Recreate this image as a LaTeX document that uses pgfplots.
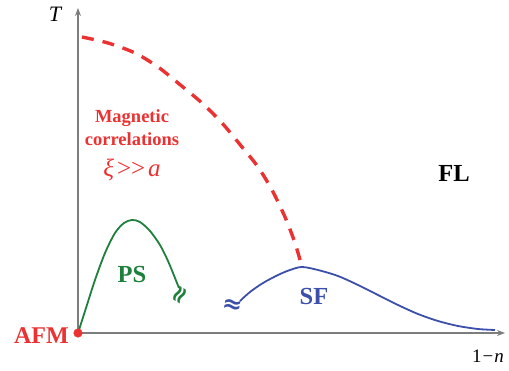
\documentclass[border=0pt]{standalone}
\usepackage{fontspec}
\setmainfont{Liberation Serif}
\newfontfamily\dejavu{DejaVu Sans}
\usepackage{pgfplots}
\pgfplotsset{compat=1.18}
\usetikzlibrary{arrows.meta}
\definecolor{cred}{RGB}{235,50,50}
\definecolor{cgreen}{RGB}{30,128,60}
\definecolor{cblue}{RGB}{60,80,170}
\definecolor{caxis}{RGB}{125,125,125}
\begin{document}
\begin{tikzpicture}
\useasboundingbox (-78pt,-37pt) rectangle (431pt,333pt);
\begin{axis}[
  anchor=origin, at={(0pt,0pt)},
  x=1pt, y=1pt,
  xmin=0, xmax=427, ymin=0, ymax=325,
  axis lines=left,
  axis line style={caxis, line width=1.3pt, -{Stealth[length=8pt,width=6pt]}},
  xtick=\empty, ytick=\empty,
  clip=false,
]
% red dashed crossover
\addplot[cred, line width=3.4pt, dash pattern=on 12pt off 9pt, smooth, tension=0.5] coordinates {
(4,296) (30,290) (57,280) (80,266) (100,250) (124,230) (144,210) (164,186) (180,166) (194,143) (207,116) (217,90) (224,66)
};
% green PS dome
\addplot[cgreen, line width=1.8pt, smooth] coordinates {
(0,0) (8,25) (17,53) (27,80) (37,100) (46,110) (54,113) (62,111) (72,102) (82,88) (90,72) (97,55) (101,45)
};
% blue SF dome
\addplot[cblue, line width=1.8pt, smooth] coordinates {
(162,32) (172,41) (185,50) (200,58) (212,63) (224,66) (240,63) (260,57) (280,48) (300,38) (320,28) (340,19) (360,12) (380,7) (400,4) (417,3)
};
% AFM point
\addplot[only marks, mark=*, mark size=4.3pt, cred] coordinates {(0,0)};
% break marks
\node[cgreen, rotate=60, font=\dejavu\bfseries\fontsize{24}{24}\selectfont, inner sep=0pt] at (axis cs:103,37) {≈};
\node[cblue, rotate=-10, font=\dejavu\bfseries\fontsize{24}{24}\selectfont, inner sep=0pt] at (axis cs:154,27) {≈};
% labels
\node[font=\itshape\fontsize{22}{24}\selectfont] at (axis cs:-23,319) {T};
\node[font=\fontsize{19}{20}\selectfont] at (axis cs:410,-23) {1\kern1pt−\kern1pt\textit{n}};
\node[cred, font=\bfseries\fontsize{18.5}{23}\selectfont, align=center] at (axis cs:54,205) {Magnetic\\correlations};
\node[cred, font=\fontsize{25}{26}\selectfont] at (axis cs:54,163) {\textit{ξ}\kern3pt>{}>\kern3pt\textit{a}};
\node[font=\bfseries\fontsize{24.5}{26}\selectfont] at (axis cs:376,160) {FL};
\node[cgreen, font=\bfseries\fontsize{24.5}{26}\selectfont] at (axis cs:54,58) {PS};
\node[cblue, font=\bfseries\fontsize{24.5}{26}\selectfont] at (axis cs:236,36) {SF};
\node[cred, font=\bfseries\fontsize{24}{26}\selectfont, anchor=east, inner sep=0pt] at (axis cs:-9,-3) {AFM};
\end{axis}
\end{tikzpicture}
\end{document}
